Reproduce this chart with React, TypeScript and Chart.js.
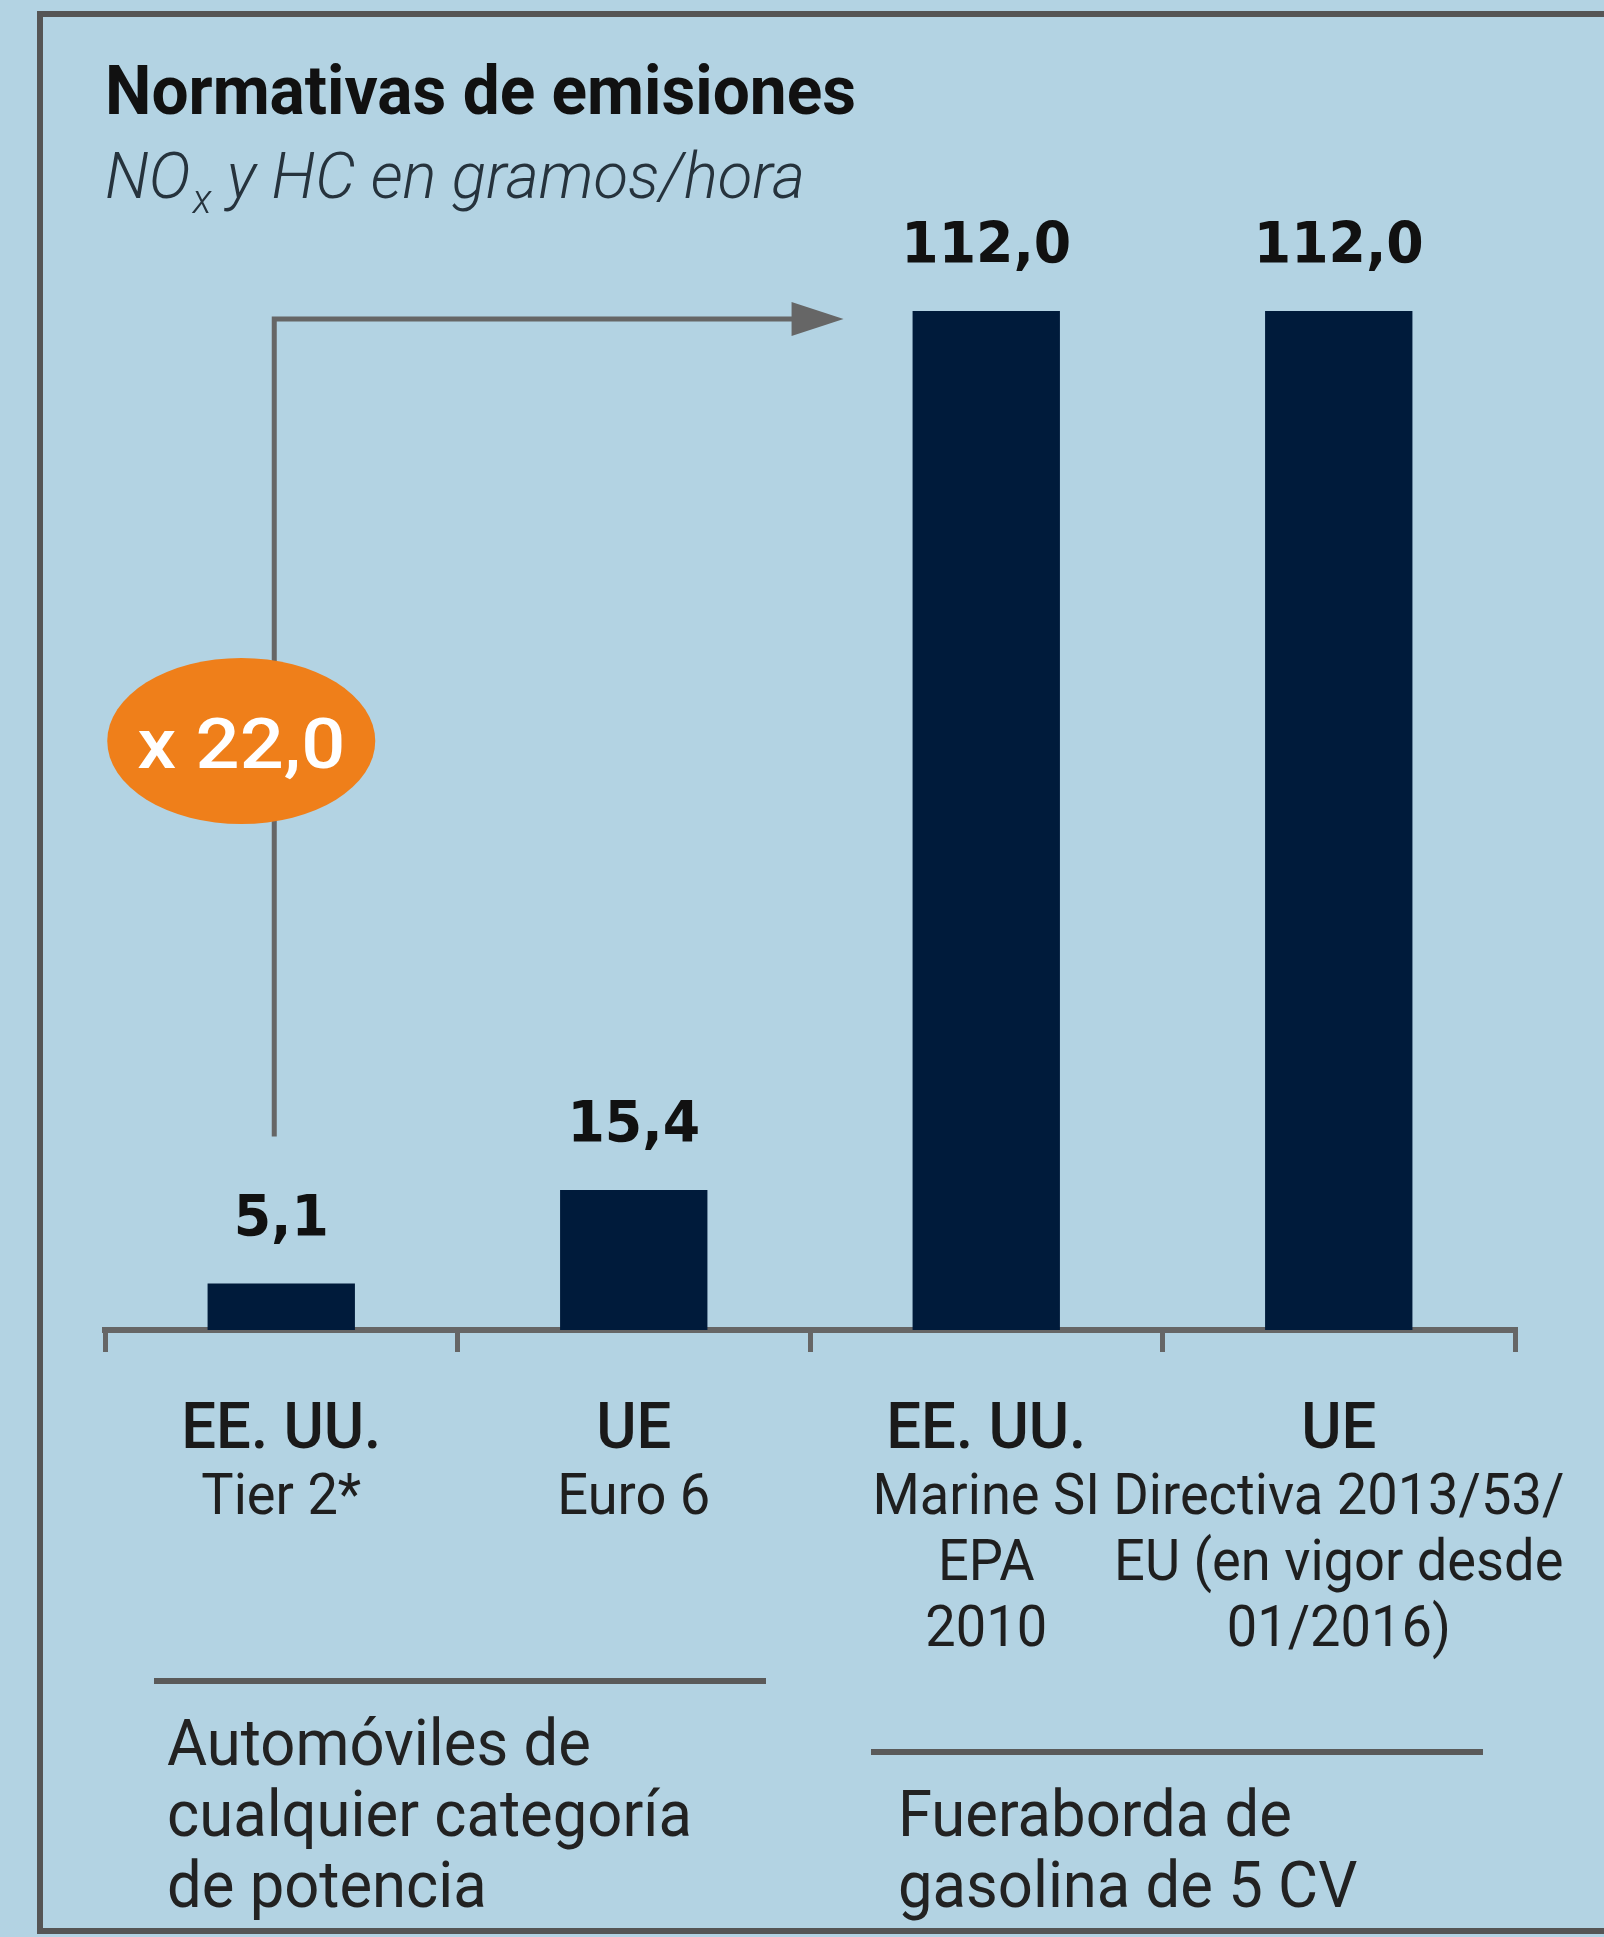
import React, { useEffect, useRef } from "react";
import { Chart, registerables } from "chart.js";

Chart.register(...registerables);

// ---------- data ----------
const chartTitle = "Normativas de emisiones";
const subtitleParts = ["NO", "x", " y HC en gramos/hora"]; // "x" is a subscript
const regions = ["EE. UU.", "UE", "EE. UU.", "UE"];
const standards = [
  ["Tier 2*"],
  ["Euro 6"],
  ["Marine SI", "EPA", "2010"],
  ["Directiva 2013/53/", "EU (en vigor desde", "01/2016)"],
];
const emissions = [5.1, 15.4, 112.0, 112.0];
const groupCars = ["Automóviles de", "cualquier categoría", "de potencia"];
const groupOutboard = ["Fueraborda de", "gasolina de 5 CV"];

const fmt = (v: number) => v.toFixed(1).replace(".", ",");
const ratioLabel = "x " + fmt(emissions[2] / emissions[0]);

// ---------- styles ----------
const BG = "#b3d3e3";
const BAR = "#001b3b";
const GRAY = "#666666";
const FRAME = "#555555";

function widthOf(ctx: CanvasRenderingContext2D, text: string, font: string) {
  ctx.save();
  ctx.font = font;
  const w = ctx.measureText(text).width;
  ctx.restore();
  return w;
}

function drawText(
  ctx: CanvasRenderingContext2D,
  text: string,
  x: number,
  y: number,
  font: string,
  color: string,
  align: "left" | "center",
  sx: number
) {
  ctx.save();
  ctx.font = font;
  ctx.fillStyle = color;
  ctx.textBaseline = "alphabetic";
  ctx.textAlign = "left";
  const w = ctx.measureText(text).width * sx;
  const left = align === "center" ? x - w / 2 : x;
  ctx.translate(left, y);
  ctx.scale(sx, 1);
  ctx.fillText(text, 0, 0);
  ctx.restore();
  return w;
}

const backgroundPlugin = {
  id: "bgFrame",
  beforeDraw(chart: any) {
    const ctx: CanvasRenderingContext2D = chart.ctx;
    ctx.save();
    ctx.fillStyle = BG;
    ctx.fillRect(0, 0, chart.width, chart.height);
    ctx.strokeStyle = FRAME;
    ctx.lineWidth = 6;
    ctx.strokeRect(40, 14, chart.width + 20, 1917);
    ctx.restore();
  },
};

const overlayPlugin = {
  id: "overlay",
  afterDraw(chart: any) {
    const ctx: CanvasRenderingContext2D = chart.ctx;
    const meta = chart.getDatasetMeta(0);
    const bars = meta.data;

    // Title
    const titleFont = "700 68px Roboto, 'Open Sans', sans-serif";
    const tsx = 751 / widthOf(ctx, chartTitle, titleFont);
    drawText(ctx, chartTitle, 105, 114, titleFont, "#111111", "left", tsx);

    // Subtitle with subscript
    const subFont = "italic 300 64px Roboto, 'Open Sans', sans-serif";
    const subSmall = "italic 300 40px Roboto, 'Open Sans', sans-serif";
    const total =
      widthOf(ctx, subtitleParts[0], subFont) +
      widthOf(ctx, subtitleParts[1], subSmall) +
      widthOf(ctx, subtitleParts[2], subFont);
    const ssx = 698 / total;
    let sxPos = 105;
    sxPos += drawText(ctx, subtitleParts[0], sxPos, 198, subFont, "#26333d", "left", ssx);
    sxPos += drawText(ctx, subtitleParts[1], sxPos + 2, 213, subSmall, "#26333d", "left", ssx);
    drawText(ctx, subtitleParts[2], sxPos + 2, 198, subFont, "#26333d", "left", ssx);

    // Value labels
    const valFont = "700 57px 'DejaVu Sans', Verdana, sans-serif";
    const vsx = 170 / widthOf(ctx, fmt(112.0), valFont);
    bars.forEach((b: any, i: number) => {
      drawText(ctx, fmt(emissions[i]), b.x, b.y - 48, valFont, "#111111", "center", vsx);
    });

    // Arrow from first bar to third bar
    const ax = bars[0].x - 7;
    const ay = bars[2].y + 8;
    const tipX = bars[2].x - bars[2].width / 2 - 69;
    ctx.save();
    ctx.strokeStyle = GRAY;
    ctx.fillStyle = GRAY;
    ctx.lineWidth = 5;
    ctx.beginPath();
    ctx.moveTo(ax, bars[0].y - 147);
    ctx.lineTo(ax, ay);
    ctx.lineTo(tipX - 50, ay);
    ctx.stroke();
    ctx.beginPath();
    ctx.moveTo(tipX - 52, ay - 17);
    ctx.lineTo(tipX, ay);
    ctx.lineTo(tipX - 52, ay + 17);
    ctx.closePath();
    ctx.fill();
    ctx.restore();

    // Ratio badge
    const ex = ax - 33;
    const ey = 741;
    ctx.save();
    ctx.fillStyle = "#ef7f1a";
    ctx.beginPath();
    ctx.ellipse(ex, ey, 134, 83, 0, 0, Math.PI * 2);
    ctx.fill();
    ctx.restore();
    const badgeFont = "500 70px Roboto, 'Open Sans', sans-serif";
    const bsx = 208 / widthOf(ctx, ratioLabel, badgeFont);
    drawText(ctx, ratioLabel, ex, 768, badgeFont, "#ffffff", "center", bsx);

    // Category labels
    const catFont = "500 64px Roboto, 'Open Sans', sans-serif";
    const csx = 200 / widthOf(ctx, regions[0], catFont);
    const stdFont = "400 58px Roboto, 'Open Sans', sans-serif";
    const ssx2 = 451 / widthOf(ctx, standards[3][0], stdFont);
    bars.forEach((b: any, i: number) => {
      drawText(ctx, regions[i], b.x, 1448, catFont, "#1a1a1a", "center", csx);
      standards[i].forEach((line, j) => {
        drawText(ctx, line, b.x, 1514 + j * 66, stdFont, "#1f1f1f", "center", ssx2);
      });
    });

    // Group separators
    ctx.save();
    ctx.strokeStyle = "#5a5a5a";
    ctx.lineWidth = 6;
    ctx.beginPath();
    ctx.moveTo(154, 1681);
    ctx.lineTo(766, 1681);
    ctx.moveTo(871, 1752);
    ctx.lineTo(1483, 1752);
    ctx.stroke();
    ctx.restore();

    // Group texts
    const grpFont = "400 64px Roboto, 'Open Sans', sans-serif";
    const gsx = 525 / widthOf(ctx, groupCars[1], grpFont);
    groupCars.forEach((t, j) => drawText(ctx, t, 167, 1765 + j * 71, grpFont, "#222222", "left", gsx));
    groupOutboard.forEach((t, j) => drawText(ctx, t, 898, 1836 + j * 71, grpFont, "#222222", "left", gsx));
  },
};

export default function App() {
  const ref = useRef<HTMLCanvasElement | null>(null);

  useEffect(() => {
    document.body.style.margin = "0";
    if (!ref.current) return;
    const chart = new Chart(ref.current, {
      type: "bar",
      data: {
        labels: regions.map((r, i) => [r, ...standards[i]]),
        datasets: [
          {
            label: "NOx y HC (g/h)",
            data: emissions,
            backgroundColor: BAR,
            borderWidth: 0,
            barPercentage: 0.418,
            categoryPercentage: 1.0,
          },
        ],
      },
      options: {
        responsive: false,
        animation: false,
        devicePixelRatio: 1,
        layout: { padding: { left: 105, right: 89, top: 200, bottom: 585 } },
        plugins: {
          legend: { display: false },
          tooltip: { enabled: false },
          title: { display: false },
        },
        scales: {
          x: {
            z: 1,
            grid: {
              display: true,
              drawOnChartArea: false,
              drawTicks: true,
              tickLength: 22,
              color: GRAY,
              lineWidth: 5,
              offset: true,
            },
            border: { display: true, color: GRAY, width: 6 },
            ticks: { display: false },
          },
          y: { display: false, min: 0, max: 124.2 },
        },
      },
      plugins: [backgroundPlugin, overlayPlugin],
    });
    return () => chart.destroy();
  }, []);

  return (
    <div style={{ position: "absolute", left: 0, top: 0, width: 1604, height: 1937 }}>
      <canvas ref={ref} width={1604} height={1937} style={{ display: "block", width: 1604, height: 1937 }} />
    </div>
  );
}
